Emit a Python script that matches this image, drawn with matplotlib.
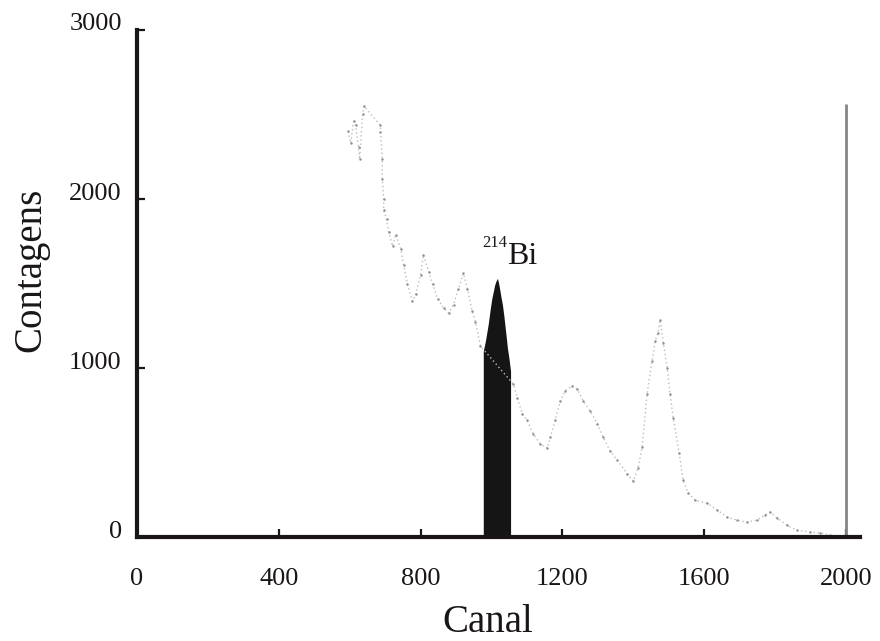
import matplotlib
matplotlib.use("Agg")
import matplotlib.pyplot as plt
import matplotlib.transforms as mtransforms

plt.rcParams['font.family'] = ['Liberation Serif', 'DejaVu Serif']

# spectrum (channel, counts)
channels = [596, 603, 611, 617, 625, 628, 637, 640, 687, 687, 692, 692, 696, 696,
            704, 710, 721, 730, 744, 752, 763, 777, 786, 800, 808, 823, 834, 848,
            865, 879, 893, 907, 921, 932, 946, 955, 969,
            1062, 1073, 1087, 1101, 1118, 1138, 1158, 1166, 1180, 1194, 1208, 1228,
            1242, 1259, 1279, 1299, 1315, 1335, 1355, 1383, 1400, 1414, 1425, 1439,
            1453, 1462, 1470, 1476, 1485, 1496, 1504, 1513, 1530, 1541, 1555, 1575,
            1608, 1637, 1665, 1693, 1721, 1749, 1772, 1786, 1806, 1834, 1862, 1899,
            1927, 1955]
counts = [2400, 2330, 2460, 2435, 2305, 2235, 2505, 2550, 2435, 2395, 2235, 2120, 2000, 1935,
          1880, 1805, 1720, 1790, 1705, 1610, 1495, 1395, 1435, 1550, 1670, 1570, 1495, 1410,
          1355, 1325, 1375, 1470, 1560, 1470, 1335, 1275, 1130,
          905, 825, 730, 690, 610, 550, 525, 590, 690, 805, 865, 895,
          875, 805, 745, 670, 590, 510, 455, 375, 330, 410, 530, 845,
          1040, 1160, 1210, 1285, 1150, 1000, 845, 705, 495, 335, 260, 218,
          200, 160, 118, 100, 88, 100, 130, 147, 112, 70, 41, 29,
          24, 12]

# 214Bi region of interest (filled black)
roi_channels = [977, 980, 983, 987, 991, 996, 1001, 1005, 1009, 1013, 1017,
                1020, 1023, 1027, 1031, 1035, 1039, 1042, 1045, 1050, 1054]
roi_counts = [1100, 1130, 1160, 1210, 1260, 1340, 1410, 1450, 1490, 1515, 1530,
              1505, 1470, 1420, 1375, 1310, 1235, 1180, 1120, 1050, 980]

x_ticks = [0, 400, 800, 1200, 1600, 2000]
y_ticks = [0, 1000, 2000, 3000]

fig = plt.figure(figsize=(8.8, 6.41), dpi=100)
ax = fig.add_axes([0.1557, 0.1622, 0.8216, 0.791])

ax.plot(channels, counts, linestyle=(0, (1, 2)), color='#bdbdbd', lw=1.0,
        marker='.', ms=3.5, mfc='#8f8f8f', mec='none')
ax.fill_between(roi_channels, roi_counts, 0, color='#151515', lw=0)
ax.vlines(2000, 0, 2560, color='#858585', lw=2)

ax.set_xlim(0, 2040)
ax.set_ylim(0, 3000)
ax.set_xticks(x_ticks)
ax.set_yticks(y_ticks)

for side in ['top', 'right']:
    ax.spines[side].set_visible(False)
for side in ['left', 'bottom']:
    ax.spines[side].set_linewidth(3)
    ax.spines[side].set_color('#1a1616')

ax.tick_params(axis='both', direction='in', length=6, width=1.6, color='#1a1616',
               labelsize=19, labelcolor='#1a1616')
ax.tick_params(axis='x', pad=22)
ax.tick_params(axis='y', pad=11)

# y tick labels sit a little above their ticks in the original
shift = mtransforms.ScaledTranslation(0, 0.08, fig.dpi_scale_trans)
for lab in ax.get_yticklabels():
    lab.set_transform(lab.get_transform() + shift)

ax.set_xlabel('Canal', fontsize=28, color='#1a1616')
ax.set_ylabel('Contagens', fontsize=28, color='#1a1616')
ax.xaxis.set_label_coords(0.485, -0.133)
ax.yaxis.set_label_coords(-0.121, 0.526)

ax.text(975, 1715, '214', fontsize=12, color='#1a1616', ha='left', va='baseline')
ax.text(1043, 1615, 'Bi', fontsize=23, color='#1a1616', ha='left', va='baseline')

fig.savefig('out.png', dpi=100)
